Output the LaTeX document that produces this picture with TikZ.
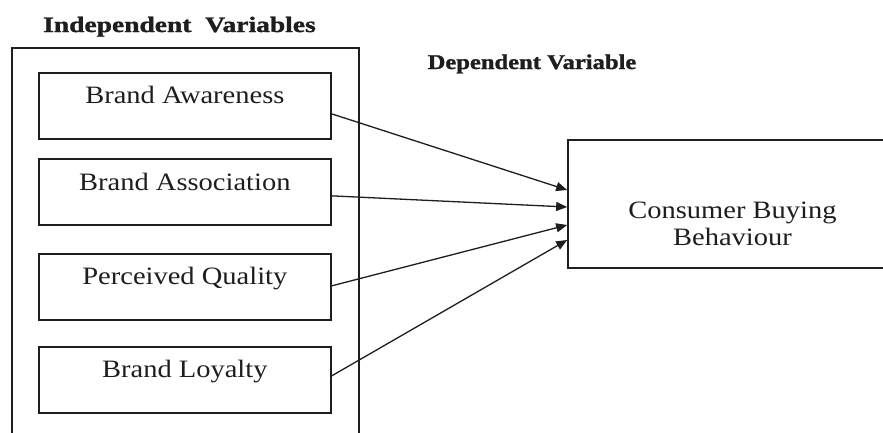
\documentclass[tikz,border=0pt]{standalone}
\usepackage{fontspec}
\setmainfont{Liberation Serif}
\newfontface\heavyfont{Liberation Serif Bold}[FakeBold=1.2]
\usetikzlibrary{calc,arrows.meta}
\definecolor{ink}{HTML}{1E1E1E}
\tikzset{
  varbox/.style={draw=ink, line width=1.7pt, minimum width=292pt, minimum height=66pt, inner sep=0pt, anchor=north west},
  boxtext/.style={anchor=base, inner sep=0pt, text=ink, font=\fontsize{25}{27}\selectfont},
  title/.style={anchor=base, inner sep=0pt, text=ink},
  arr/.style={draw=ink, line width=1.3pt, -{Triangle[length=11pt,width=9pt]}},
  frame/.style={draw=ink, line width=1.5pt}
}
\begin{document}
\begin{tikzpicture}[x=1pt,y=-1pt]
\clip (0,0) rectangle (883,432);
\fill[white] (0,0) rectangle (883,432);
% titles
\node[title, font=\fontsize{22}{24}\heavyfont] (indep) at (179.5,32) {\scalebox{1.25}[1]{Independent\ \ Variables}};
\node[title, font=\fontsize{21}{23}\heavyfont] (dep) at (532,69) {\scalebox{1.17}[1]{Dependent Variable}};
% outer frame (open at the bottom)
\coordinate (fbl) at (12,440);
\coordinate (ftl) at (12,48);
\coordinate (ftr) at (359,48);
\coordinate (fbr) at (359,440);
\draw[frame] (fbl) -- (ftl) -- (ftr) -- (fbr);
% independent variable boxes
\node[varbox] (b1) at (38,72) {};
\node[varbox] (b2) at (38,158) {};
\node[varbox] (b3) at (38,253) {};
\node[varbox] (b4) at (38,346) {};
\node[boxtext] (t1) at ($(b1.north)+(0,31)$) {\scalebox{1.14}[1]{Brand Awareness}};
\node[boxtext] (t2) at ($(b2.north)+(0,32)$) {\scalebox{1.14}[1]{Brand Association}};
\node[boxtext] (t3) at ($(b3.north)+(0,31)$) {\scalebox{1.14}[1]{Perceived Quality}};
\node[boxtext] (t4) at ($(b4.north)+(0,31)$) {\scalebox{1.14}[1]{Brand Loyalty}};
% dependent variable box
\node[draw=ink, line width=1.7pt, minimum width=329pt, minimum height=128pt, inner sep=0pt] (cbb) at (732.5,204) {};
\node[boxtext] (ct1) at (732.5,218) {\scalebox{1.14}[1]{Consumer Buying}};
\node[boxtext] (ct2) at (732.5,245) {\scalebox{1.14}[1]{Behaviour}};
% arrows
\draw[arr] ($(b1.east)+(0,8)$) -- ($(cbb.west)+(0,-14)$);
\draw[arr] ($(b2.east)+(0,4)$) -- ($(cbb.west)+(0,3)$);
\draw[arr] ($(b3.east)+(0,-1)$) -- ($(cbb.west)+(0,21)$);
\draw[arr] ($(b4.east)+(0,-4)$) -- ($(cbb.west)+(0,36)$);
\end{tikzpicture}
\end{document}
